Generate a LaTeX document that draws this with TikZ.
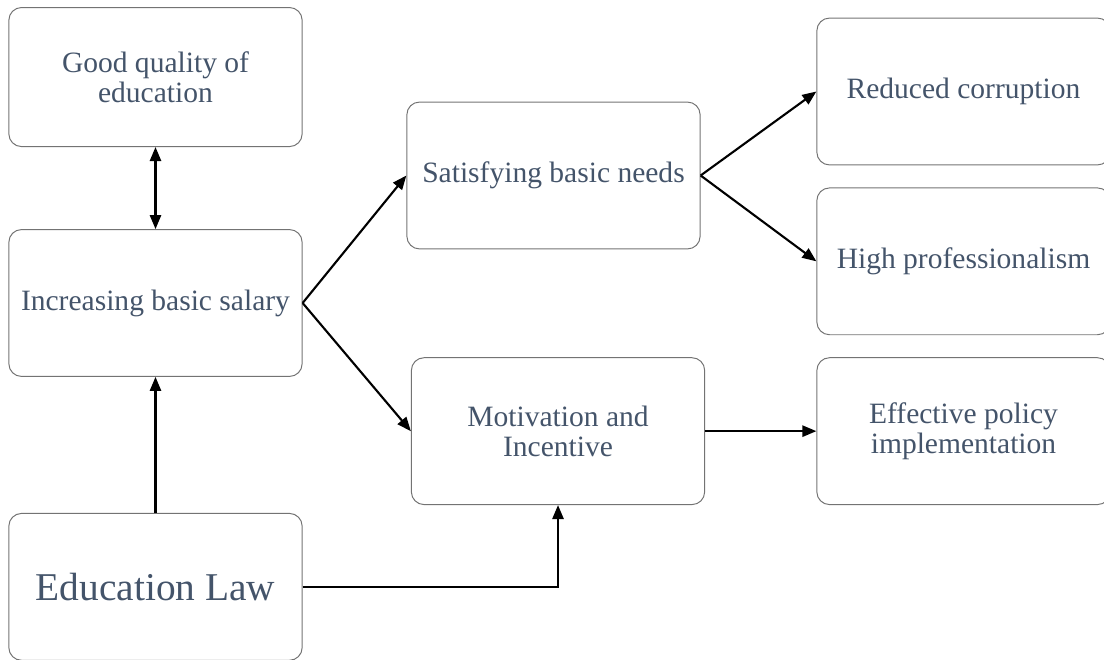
\documentclass[tikz,border=0pt]{standalone}
\usepackage{fontspec}
\setmainfont{Liberation Serif}
\usepackage{xcolor}
\usepackage{tikz}
\usetikzlibrary{arrows.meta, positioning}
\definecolor{slate}{HTML}{44546A}

\begin{document}
\begin{tikzpicture}[
    x=0.025cm, y=0.025cm,
    node distance=0.55cm and 2.78cm,
    every node/.style={font=\fontsize{21}{21.5}\selectfont, text=slate},
    box/.style={draw=black!55, line width=0.7pt, rounded corners=9pt,
                minimum width=7.33cm, minimum height=3.67cm, align=center},
    arrow/.style={-{Triangle[length=10pt,width=8pt]}, line width=1.5pt, draw=black}
]
\useasboundingbox (0,0) rectangle (1104,659);

\node[box] (salary) at (155.5,356) {Increasing basic salary};
\node[box, minimum height=3.475cm, above=2.05cm of salary] (quality) {Good quality of\\education};
\node[box, below=3.4cm of salary, font=\fontsize{28}{30}\selectfont] (law) {Education Law};

\node[box] (needs) at (553.5,483.5) {Satisfying basic needs};
\node[box] (corrupt) at (963.5,567.5) {Reduced corruption};
\node[box, below=of corrupt] (prof) {High professionalism};
\node[box, below=of prof] (policy) {Effective policy\\implementation};
\node[box, left=of policy] (motiv) {Motivation and\\Incentive};

\draw[arrow, {Triangle[length=10pt,width=8pt]}-{Triangle[length=10pt,width=8pt]}] (quality) -- (salary);
\draw[arrow] (law.north) -- (law.north |- salary.south);
\draw[arrow] (salary.east) -- (needs.west);
\draw[arrow] (salary.east) -- (motiv.west);
\draw[arrow] (needs.east) -- (corrupt.west);
\draw[arrow] (needs.east) -- (prof.west);
\draw[arrow] (motiv) -- (policy);
\draw[arrow] (law.east) -| (motiv.south);
\end{tikzpicture}
\end{document}
